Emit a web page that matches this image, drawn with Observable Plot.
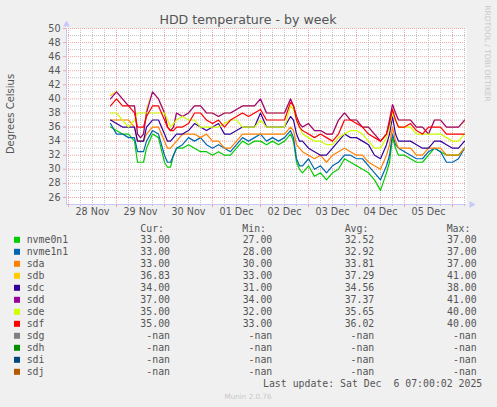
<!DOCTYPE html>
<html><head><meta charset="utf-8">
<script src="https://cdn.jsdelivr.net/npm/d3@7"></script>
<script src="https://cdn.jsdelivr.net/npm/@observablehq/plot@0.6"></script>
<style>
html,body{margin:0;padding:0;background:#F0F0F0;}
#chart{width:497px;height:407px;}
</style></head><body><div id="chart"></div>
<script>
// hours since 2025-11-28 00:00 UTC
const hours = [21,24,27,30,33,34.5,36,37.5,39,42,45,48,49.5,51,52.5,54,57,60,63,66,69,72,75,78,81,84,87,90,93,96,99,102,105,108,111,112.5,114,115.5,117,120,123,126,129,132,135,138,141,144,147,150,153,156,159,160.5,162,163.5,165,168,171,174,177,180,183,186,189,192,195,198];

const nvme0n1 = [36,35.5,35,35,34,31,31,31,33,35,34.5,31,30.3,30.3,32,33,33,33.5,33,32.5,32.5,32,32.5,32,32,33,34,33.5,34,34,33.5,34,33.5,34,35,34,31,30,29.5,30.5,29,29.5,28.5,29.5,30,31.5,31,30.5,30,29.5,28.5,27,29.5,31,34.5,33,32,32,31.5,31,31,32,33,32.5,32,32,32,33];
const nvme1n1 = [36.5,35,35,34.5,34.5,32.5,32.5,32.5,34,35.5,35,32,31,31,32,33,33.5,34.5,34,34.5,33.5,33,33.5,33,32.5,33.5,34.5,34,34.5,35,34,34.5,34,34.5,35.5,34.5,31.5,30.5,30.5,31.5,30,30.5,29.5,30.5,31,32,32,31.5,31.5,30.5,29.5,28.5,30.5,32,35,33.5,33,32.5,32,31.5,31.5,32.5,33,32.5,31,31,31.5,33];
const sda = [37,37,37,37,36,34,34,34,35,36,36,34,33,33,33.5,34,35,35,35,34.5,35,34,34,33,33,34,35,35,35,35,35,35,35,35,36,35.5,33.5,33,32.5,32,31.5,32,31,32,32.5,33,32.5,32,32,31,30.5,30,32,33.5,36,34,33,33,33,32,32,33,33,33,32,32,32,33];
const sdb = [40.5,41,40,39,39,35,34.5,35,38.5,41,40,38,36,35.5,36,38,37.5,38,39,39,38,38,37.5,38,38,38.5,39,39,39,40,38,38,38,38,40,39,37.5,36.5,36,36.5,35.5,35.5,35,35,37,38,37,37,36,36,35,34,35,37,39.2,38,37,37,37,36,36,35,37,37,36,36,36,36.8];
const sdc = [37,36.5,36,36,36,34,34,34,36,37,37,35,34,34,34.5,35,35,35.5,36.5,36,35.5,36,36.5,35,35,35.5,36,36,36,38,36,36,36,36,37.5,37,35,34,34,33,32.5,32,32,33,34,35,34.5,34.5,34,33.5,32,31.5,33.5,35,37.5,35,34,34,34,33.5,33,33,34,34,33.5,33,33,34];
const sdd = [40,41,40,39,39,35,34.5,35,38,41,40,38,36,35.5,36,38,37.5,38,39,39,38,38,37.5,38,38,38.5,39,39,39,40,38,38,38,38,40,39,37.5,36.5,36,36.5,35.5,35.5,35,35,37,38,37,37,36,36,35,34,35,37,39.2,38,37,37,37,36,36,35,37,37,36,36,36,37];
const sde = [38,38,37,36,37,38,38,38,38,38,38,38,37,36,36.5,37,37.5,37,37,36,36,36,36,36.5,37,37,36,36,36,37,36,36,36,36,39,38.5,37,36,35,34.5,34,34,33.5,33.5,34.5,35,35.5,35.5,35,34,33,33,34.5,36,38,37,36,36,36,35,35,35,35,35,34.5,34,34,35];
const sdf = [39,40,39,39,38,36,36,36,37.5,39,39,37,36,35.5,35.5,36,36,36.5,38,38,37,36.5,37,36,37,37.5,38,37.5,38,38.5,37,37,37,37,39.5,39,37,36,35.5,35,34.5,35,34.5,34,35,37,37,36.5,36,35,34.5,34,35,36.5,38.5,37,36,36,36.5,35.5,35,36,36,36,35,35,35,35];

const seriesNames = ["nvme0n1","nvme1n1","sda","sdb","sdc","sdd","sde","sdf","sdg","sdh","sdi","sdj"];
const seriesColors = ["#00CC00","#0066B3","#FF8000","#FFCC00","#330099","#990099","#CCFF00","#FF0000","#808080","#008F00","#00487D","#B35A00"];
const curVals = ["33.00","33.00","33.00","36.83","34.00","37.00","35.00","35.00","-nan","-nan","-nan","-nan"];
const minVals = ["27.00","28.00","30.00","33.00","31.00","34.00","32.00","33.00","-nan","-nan","-nan","-nan"];
const avgVals = ["32.52","32.92","33.81","37.29","34.56","37.37","35.65","36.02","-nan","-nan","-nan","-nan"];
const maxVals = ["37.00","37.00","37.00","41.00","38.00","41.00","40.00","40.00","-nan","-nan","-nan","-nan"];
const dayLabels = ["28 Nov","29 Nov","30 Nov","01 Dec","02 Dec","03 Dec","04 Dec","05 Dec"];
const yTickLabels = [26,28,30,32,34,36,38,40,42,44,46,48,50];
const yMinor = [27,29,31,33,35,37,39,41,43,45,47,49];

const base = Date.UTC(2025, 10, 28);
const HOUR = 3600e3;
const at = h => new Date(base + h * HOUR);
const xDomain = [at(-1), at(199)];
const midnights = d3.range(0, 9).map(k => at(24 * k));
const sixHours = d3.range(1, 34).filter(k => k % 4 !== 0).map(k => at(6 * k));
const noons = dayLabels.map((t, k) => ({date: at(12 + 24 * k), text: t}));

const series = [nvme0n1, nvme1n1, sda, sdb, sdc, sdd, sde, sdf];
const lineMarks = series.map((vals, i) =>
  Plot.line(hours.map((h, j) => ({date: at(h), v: vals[j]})),
    {x: "date", y: "v", stroke: seriesColors[i], strokeWidth: 1.2}));

const gridGray = "#c4c4c4", gridRed = "#f2a4a4", axisCol = "#c8c8f8";

const chart = Plot.plot({
  width: 497, height: 407,
  marginLeft: 66, marginRight: 31, marginTop: 28, marginBottom: 203,
  style: {background: "#F0F0F0", color: "#555", fontFamily: "DejaVu Sans", fontSize: "9.5px", overflow: "visible"},
  x: {type: "utc", domain: xDomain, axis: null},
  y: {domain: [25, 50], axis: null},
  marks: [
    Plot.frame({fill: "white", stroke: "none"}),
    Plot.ruleY(yMinor, {stroke: gridGray, strokeDasharray: "1,1"}),
    Plot.ruleX(sixHours, {stroke: gridGray, strokeDasharray: "1,1"}),
    Plot.ruleY(yTickLabels, {stroke: gridRed, strokeDasharray: "1,1"}),
    Plot.ruleX(midnights, {stroke: gridRed, strokeDasharray: "1,1"}),
    ...lineMarks,
    Plot.ruleY([25], {stroke: axisCol}),
    Plot.ruleX([xDomain[0]], {stroke: axisCol}),
    Plot.axisY(yTickLabels, {anchor: "left", label: null, tickSize: 3, stroke: gridRed, tickFormat: () => ""}),
    Plot.axisX(midnights, {anchor: "bottom", label: null, tickSize: 3, stroke: gridRed, tickFormat: () => ""}),
    Plot.axisX(sixHours, {anchor: "bottom", label: null, tickSize: 2, stroke: gridGray, tickFormat: () => ""}),
    Plot.dot([xDomain[1]], {x: d => d, y: () => 25, symbol: "triangle", r: 2.6, fill: axisCol, rotate: 90, dx: 5}),
    Plot.dot([50], {x: () => xDomain[0], y: d => d, symbol: "triangle", r: 2.6, fill: axisCol, dy: -4}),
    Plot.text(yTickLabels, {y: d => d, frameAnchor: "left", textAnchor: "end", dx: -6, text: d => String(d), fill: "#555", fontSize: 9.6}),
    Plot.text(noons, {x: "date", frameAnchor: "bottom", lineAnchor: "top", dy: 4, text: "text", fill: "#555", fontSize: 9.6})
  ]
});
document.getElementById("chart").appendChild(chart);

const svg = d3.select(chart);
const sans = "'DejaVu Sans', sans-serif", mono = "'DejaVu Sans Mono', monospace";
svg.append("text").attr("x", 248).attr("y", 24).attr("text-anchor", "middle")
  .attr("font-family", sans).attr("font-size", 12.6).attr("fill", "#555").text("HDD temperature - by week");
svg.append("text").attr("transform", "translate(13.5,114) rotate(-90)").attr("text-anchor", "middle")
  .attr("font-family", sans).attr("font-size", 10).attr("fill", "#555").text("Degrees Celsius");
svg.append("text").attr("transform", "translate(485,53.5) rotate(90)").attr("text-anchor", "middle")
  .attr("font-family", sans).attr("font-size", 7.5).attr("fill", "#c8c8c8").text("RRDTOOL / TOBI OETIKER");

const lg = svg.append("g").attr("font-family", mono).attr("font-size", 9.85).attr("fill", "#555").attr("text-anchor", "start");
[["Cur:", 140.3], ["Min:", 242.3], ["Avg:", 344.7], ["Max:", 446.7]].forEach(([t, x]) =>
  lg.append("text").attr("x", x).attr("y", 231.5).attr("text-anchor", "start").text(t));
const cols = [[curVals, 170], [minVals, 272.3], [avgVals, 374.3], [maxVals, 476.7]];
seriesNames.forEach((name, i) => {
  const yb = 243.3 + 12 * i;
  lg.append("rect").attr("x", 14).attr("y", yb - 6.5).attr("width", 6).attr("height", 6).attr("fill", seriesColors[i]);
  lg.append("text").attr("x", 26.7).attr("y", yb).attr("text-anchor", "start").text(name);
  cols.forEach(([arr, x]) => lg.append("text").attr("x", x).attr("y", yb).attr("text-anchor", "end").text(arr[i]));
});
lg.append("text").attr("x", 482.3).attr("y", 387.3).attr("text-anchor", "end").style("white-space", "pre")
  .text("Last update: Sat Dec  6 07:00:02 2025");
svg.append("text").attr("x", 248).attr("y", 399).attr("text-anchor", "middle")
  .attr("font-family", sans).attr("font-size", 7.2).attr("fill", "#c8c8c8").text("Munin 2.0.76");
</script>
</body></html>
